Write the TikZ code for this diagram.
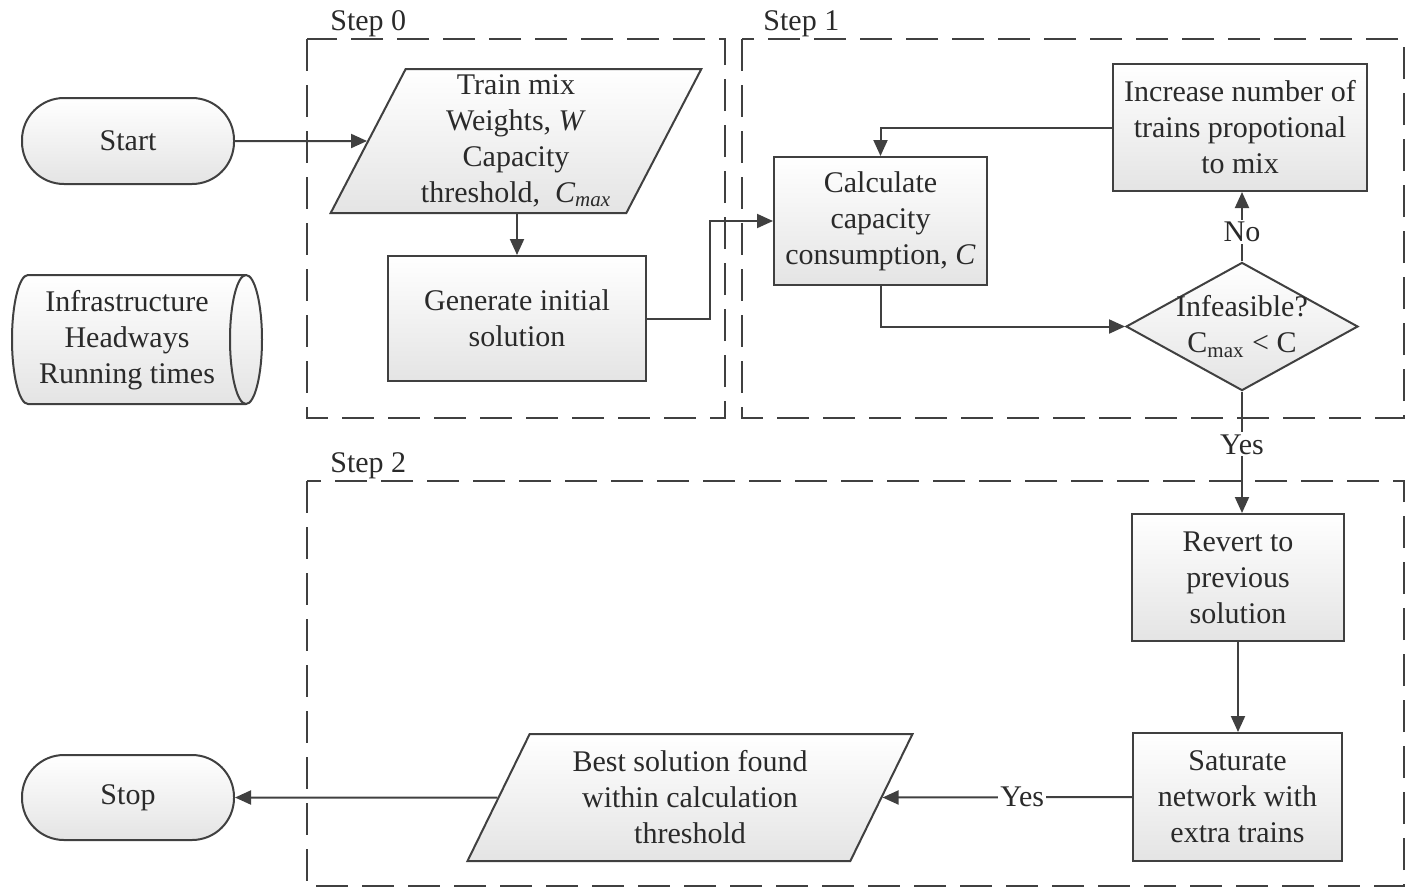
\documentclass[tikz,border=0pt]{standalone}
\usepackage{fontspec}
\setmainfont{Liberation Serif}
\usetikzlibrary{shapes.geometric,arrows.meta}
\definecolor{lc}{HTML}{404040}
\definecolor{tc}{HTML}{2A2A2A}
\definecolor{fc}{HTML}{E4E4E4}
\newcommand\myfs{\fontsize{15pt}{18pt}\selectfont}
\begin{document}
\begin{tikzpicture}[x=0.5pt,y=-0.5pt,
  every node/.style={text=tc,font=\myfs},
  shaded/.style={draw=lc,line width=1pt,top color=white,bottom color=fc,align=center,inner sep=0pt},
  procbox/.style={shaded,rectangle},
  termbox/.style={shaded,rectangle,rounded corners=21pt},
  parabox/.style={shaded,trapezium,trapezium left angle=64,trapezium right angle=116,trapezium stretches=true},
  decbox/.style={shaded,diamond,aspect=1.81,inner sep=-1pt},
  groupbox/.style={draw=lc,line width=0.8pt,dash pattern=on 16pt off 7pt},
  conn/.style={draw=lc,line width=1pt,-{Triangle[length=8pt,width=7pt]}},
  lab/.style={fill=white,inner sep=1pt}]
\useasboundingbox (0,0) rectangle (1408,890);
% group boxes
\draw[groupbox] (307,39) rectangle (725,418);
\draw[groupbox] (742,39) rectangle (1404,418);
\draw[groupbox] (307,481) rectangle (1404,886);
\node[anchor=base west,inner sep=0pt] (s0) at (330,30) {Step 0};
\node[anchor=base west,inner sep=0pt] (s1) at (763,30) {Step 1};
\node[anchor=base west,inner sep=0pt] (s2) at (330,472) {Step 2};
% data store (horizontal cylinder)
\path[draw=lc,line width=1pt,top color=white,bottom color=fc]
  (28,275) -- (246,275) arc[start angle=-90,end angle=90,x radius=16,y radius=64.5]
  -- (28,404) arc[start angle=90,end angle=270,x radius=16,y radius=64.5] -- cycle;
\draw[lc,line width=1pt] (246,275) arc[start angle=270,end angle=90,x radius=16,y radius=64.5];
\node[align=center] (data) at (127,340) {Infrastructure\\Headways\\Running times};
% nodes
\node[termbox,minimum width=106pt,minimum height=43pt] (start) at (128,141) {Start};
\node[parabox,minimum width=185.5pt,minimum height=72pt] (input) at (516,141)
  {Train mix\\Weights, \textit{W}\\Capacity\\threshold,\ \ \textit{C\textsubscript{max}}};
\node[procbox,minimum width=129pt,minimum height=62.5pt] (gen) at (517,318.5) {Generate initial\\solution};
\node[procbox,minimum width=106.5pt,minimum height=64pt] (calc) at (880.5,221) {Calculate\\capacity\\consumption, \textit{C}};
\node[procbox,minimum width=127pt,minimum height=63.5pt] (inc) at (1240,127.5) {Increase number of\\trains propotional\\to mix};
\node[decbox,minimum width=115pt,minimum height=63.5pt] (dec) at (1242,326.5) {Infeasible?\\C\textsubscript{max} < C};
\node[procbox,minimum width=106pt,minimum height=63.5pt] (rev) at (1238,577.5) {Revert to\\previous\\solution};
\node[procbox,minimum width=104.5pt,minimum height=64pt] (sat) at (1237.5,797) {Saturate\\network with\\extra trains};
\node[parabox,minimum width=223pt,minimum height=63.5pt] (best) at (690,797.5) {Best solution found\\within calculation\\threshold};
\node[termbox,minimum width=106pt,minimum height=42.5pt] (stop) at (128,797.5) {Stop};
% connectors
\draw[conn] (start.east) -- (input.west);
\draw[conn] (gen.north |- input.south) -- (gen.north);
\draw[conn] (gen.east) -- ++(63,0) |- (calc.west);
\draw[conn] (calc.south) |- (dec.west);
\draw[conn] (dec.north) -- node[lab,pos=0.42]{No} (dec.north |- inc.south);
\draw[conn] (inc.west) -| (calc.north);
\draw[conn] (dec.south) -- node[lab,pos=0.435]{Yes} (dec.south |- rev.north);
\draw[conn] (rev.south) -- (rev.south |- sat.north);
\draw[conn] (sat.west) -- node[lab,pos=0.44]{Yes} (best.east);
\draw[conn] (best.west) -- (stop.east);
\end{tikzpicture}
\end{document}
